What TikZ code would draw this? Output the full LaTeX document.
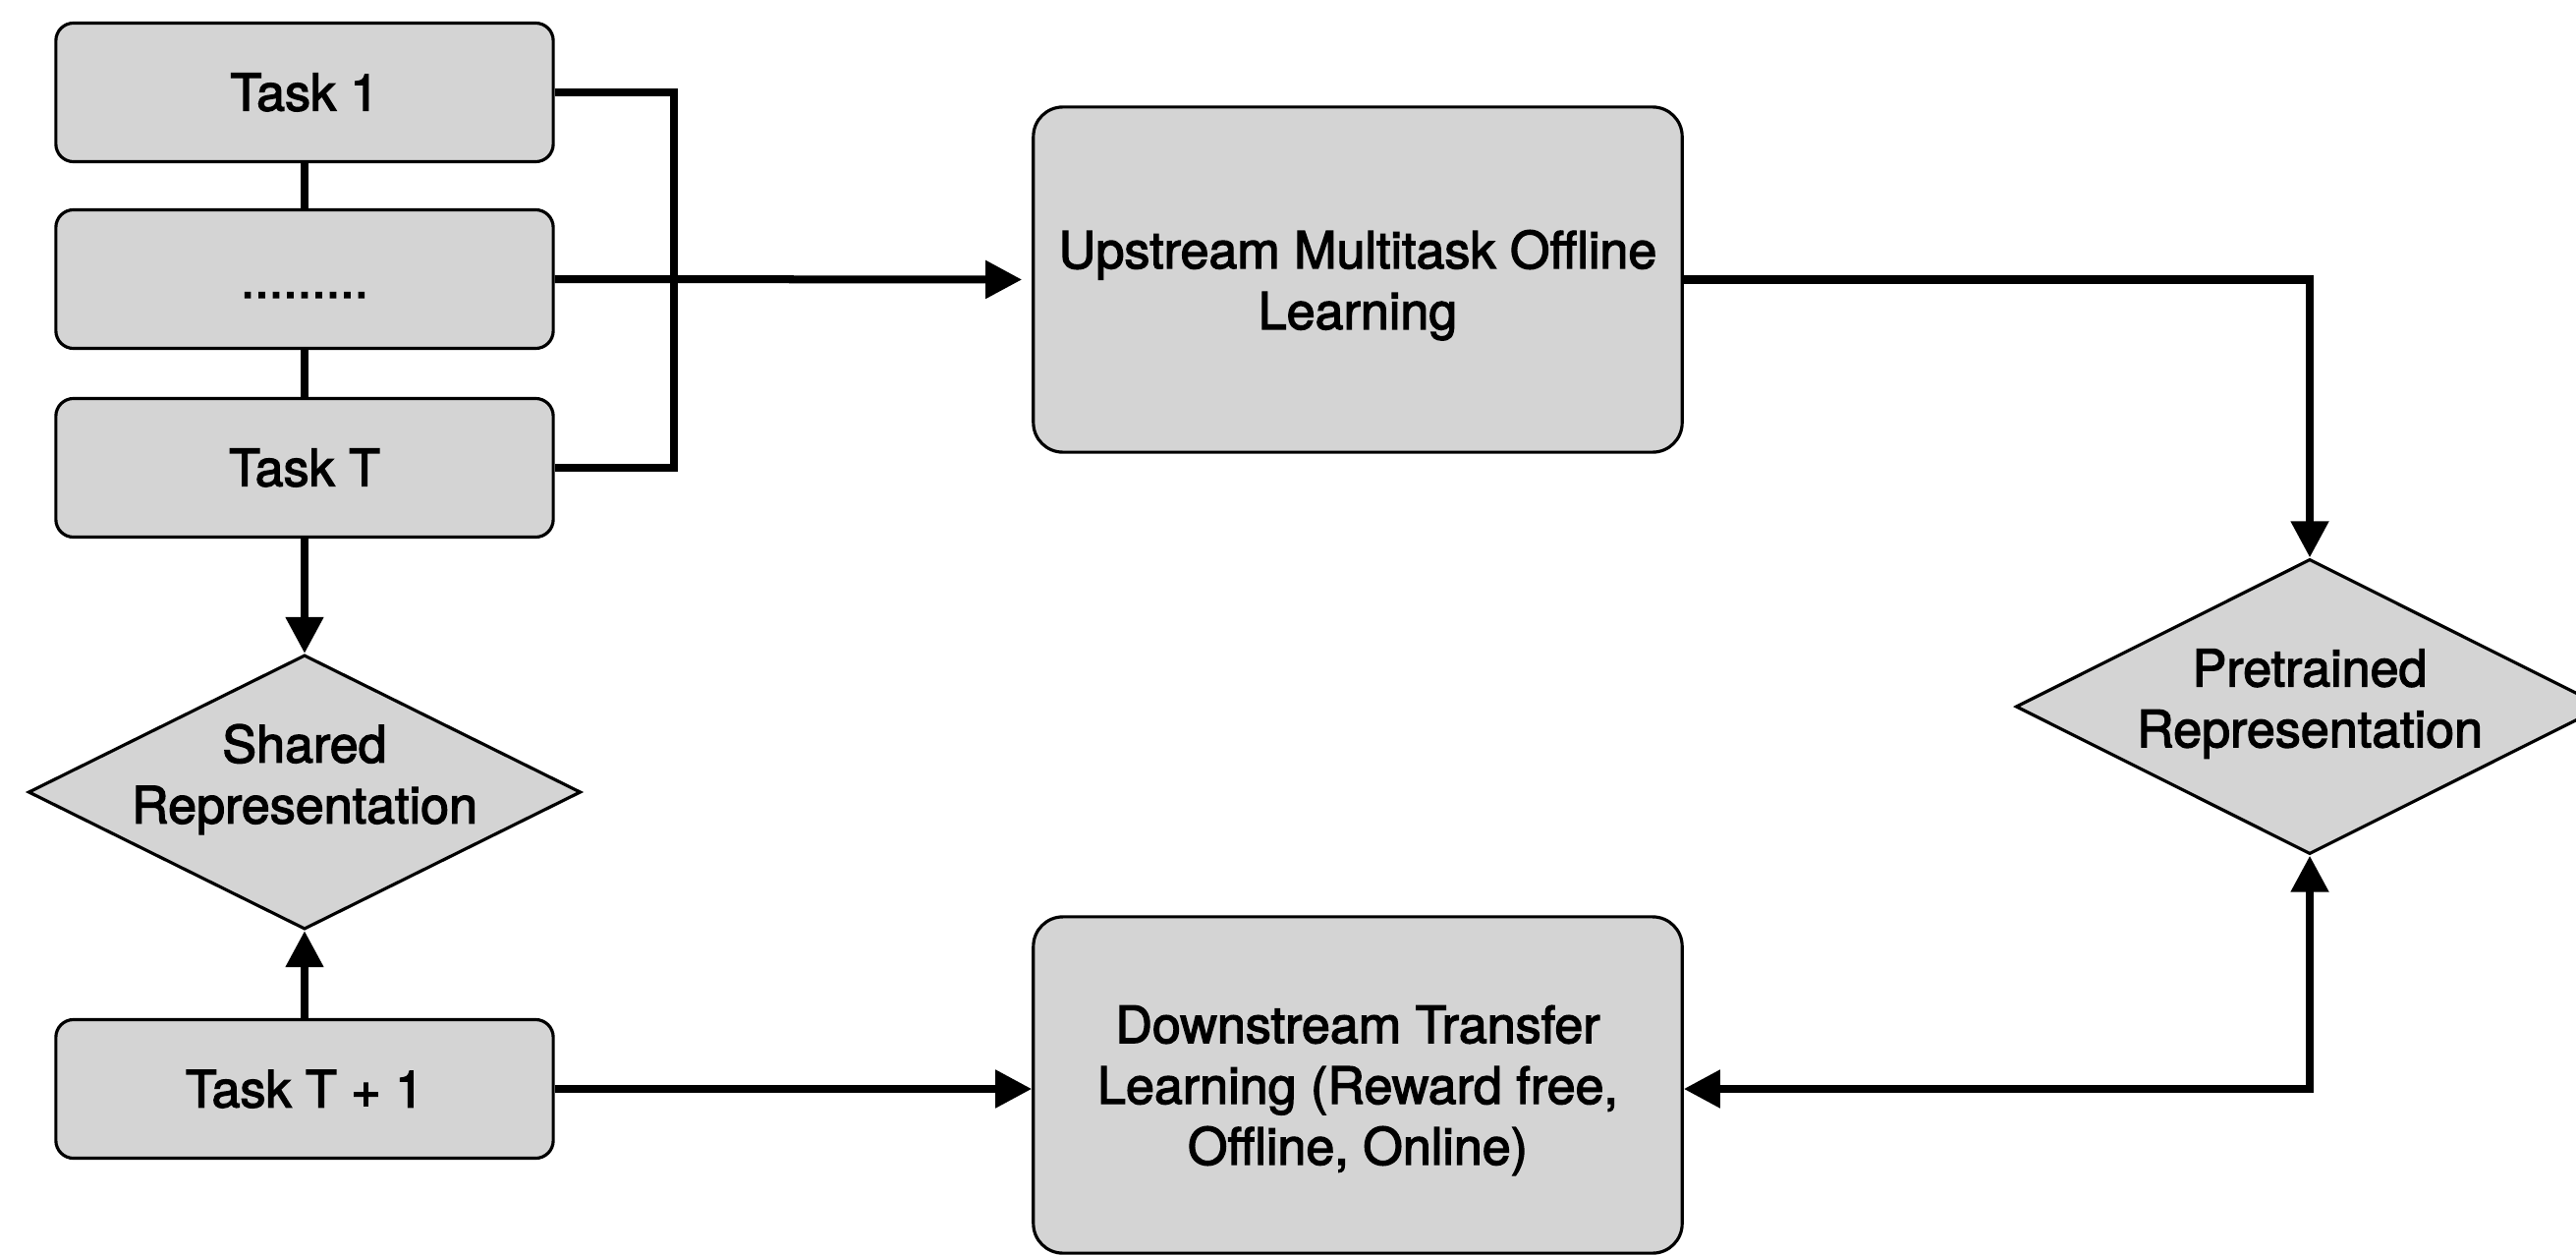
\documentclass[tikz,border=0pt]{standalone}
\usepackage{fontspec}
\setmainfont{TeX Gyre Heros}[FakeBold=2.5]
\usetikzlibrary{shapes.geometric,arrows.meta}
\definecolor{boxgray}{RGB}{212,212,212}
\begin{document}
\begin{tikzpicture}[x=0.01cm,y=-0.01cm,
  txt/.style={font=\fontsize{14.8}{17.6}\selectfont, align=center},
  box/.style={txt, draw=black, fill=boxgray, line width=0.9pt, inner sep=0pt},
  smallbox/.style={box, rounded corners=0.18cm, minimum width=5.06cm, minimum height=1.41cm},
  bigbox/.style={box, rounded corners=0.3cm, minimum width=6.6cm, text depth=0pt},
  decision/.style={diamond, draw=black, fill=boxgray, line width=0.9pt, inner sep=0pt},
  flow/.style={line width=0.08cm},
  tip/.tip={Triangle[length=0.37cm,width=0.37cm]},
  arrowflow/.style={flow, -tip},
  twoway/.style={flow, tip-tip},
]
\useasboundingbox (0,0) rectangle (2622,1276);
\clip (0,0) rectangle (2622,1276);

% task stack on the left
\node[smallbox] (t1) at (310,94)  {Task 1};
\node[smallbox] (tm) at (310,284) {\vphantom{T}.........};
\node[smallbox] (tT) at (310,476) {Task T};
\node[smallbox] (tN) at (310,1108) {Task T + 1};

% learning stages
\node[bigbox, minimum height=3.51cm] (up) at (1382,284.5) {Upstream Multitask Offline\\Learning};
\node[bigbox, minimum height=3.42cm] (down) at (1382,1104) {Downstream Transfer\\Learning (Reward free,\\Offline, Online)};

% representations
\node[decision, minimum width=5.62cm, minimum height=2.79cm,
  label={[txt, yshift=0.13cm]center:{Shared\\Representation}}] (sh) at (310,806) {};
\node[decision, minimum width=5.98cm, minimum height=3.0cm,
  label={[txt, yshift=0.03cm]center:{Pretrained\\Representation}}] (pre) at (2351,719) {};

% bus collecting the upstream tasks
\coordinate (bt) at (686,94);
\coordinate (bb) at (686,476);
\draw[flow] (t1.east) -- (bt) -- (bb) -- (tT.east);
\draw[flow] (t1.south) -- (tm.north);
\draw[flow] (tm.south) -- (tT.north);
\draw[arrowflow, shorten >=0.1cm] (tm.east) -- (up.west);

% flows between stages
\draw[arrowflow] (up.east) -| (pre.north);
\draw[twoway] (pre.south) |- (tN.east -| down.east);
\draw[arrowflow] (tN.east) -- (tN.east -| down.west);
\draw[arrowflow] (tT.south) -- (sh.north);
\draw[arrowflow] (tN.north) -- (sh.south);
\end{tikzpicture}
\end{document}
